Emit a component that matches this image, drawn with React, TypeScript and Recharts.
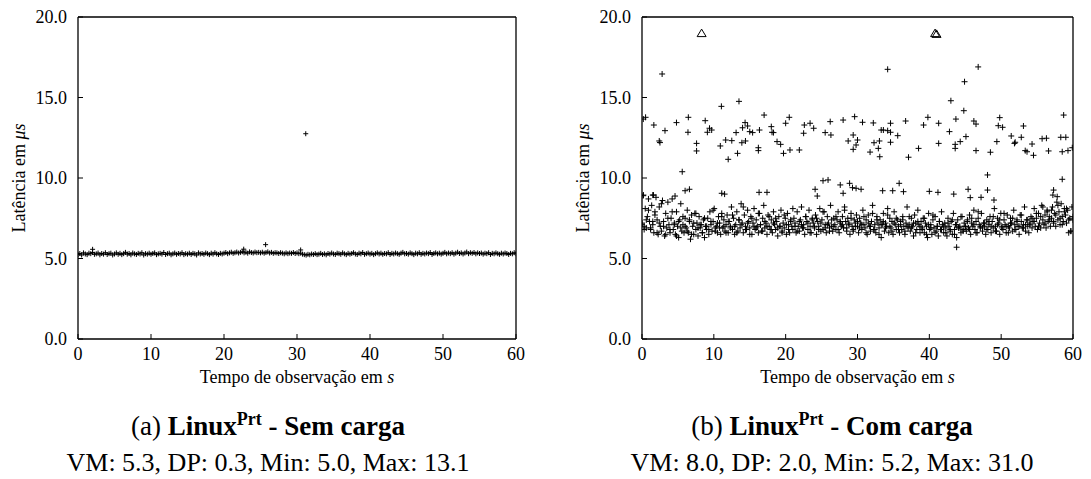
import React from 'react';
import { ScatterChart, Scatter, XAxis, YAxis, Label } from 'recharts';

// axis ticks shared by both panels
const X_TICKS = [0, 10, 20, 30, 40, 50, 60];
const Y_TICKS = [0, 5, 10, 15, 20];

// (a) sem carga: latency sampled every 0.25 s
const LEFT_STEP = 0.25;
const LEFT_BASE = [
  5.25, 5.31, 5.22, 5.35, 5.28, 5.24, 5.33, 5.3, 5.37, 5.26,
  5.29, 5.34, 5.23, 5.31, 5.27, 5.36, 5.25, 5.3, 5.33, 5.22,
  5.28, 5.35, 5.26, 5.32, 5.24, 5.3, 5.38, 5.27, 5.31, 5.23,
  5.34, 5.29, 5.25, 5.32, 5.28, 5.36, 5.22, 5.3, 5.27, 5.33,
  5.26, 5.31, 5.35, 5.24, 5.29, 5.32, 5.27, 5.37, 5.25, 5.3,
  5.33, 5.23, 5.29, 5.34, 5.26, 5.31, 5.28, 5.36, 5.24, 5.3,
  5.27, 5.33, 5.25, 5.32, 5.29, 5.22, 5.35, 5.28, 5.31, 5.26,
  5.34, 5.3, 5.24, 5.33, 5.27, 5.36, 5.29, 5.25, 5.32, 5.28,
  5.33, 5.37, 5.3, 5.35, 5.39, 5.32, 5.36, 5.4, 5.34, 5.38,
  5.42, 5.35, 5.39, 5.33, 5.41, 5.37, 5.34, 5.4, 5.36, 5.38,
  5.35, 5.39, 5.33, 5.37, 5.41, 5.34, 5.38, 5.32, 5.36, 5.35,
  5.31, 5.36, 5.33, 5.29, 5.35, 5.3, 5.34, 5.32, 5.37, 5.31,
  5.35, 5.3, 5.33, 5.27, 5.24, 5.21, 5.26, 5.23, 5.28, 5.25,
  5.3, 5.24, 5.27, 5.32, 5.25, 5.29, 5.23, 5.31, 5.27, 5.34,
  5.28, 5.25, 5.33, 5.3, 5.26, 5.35, 5.29, 5.24, 5.32, 5.27,
  5.31, 5.36, 5.28, 5.25, 5.33, 5.29, 5.37, 5.26, 5.3, 5.34,
  5.27, 5.32, 5.24, 5.3, 5.35, 5.28, 5.33, 5.26, 5.31, 5.29,
  5.36, 5.25, 5.32, 5.28, 5.34, 5.3, 5.26, 5.33, 5.38, 5.29,
  5.31, 5.27, 5.35, 5.3, 5.24, 5.33, 5.29, 5.36, 5.26, 5.32,
  5.28, 5.34, 5.3, 5.37, 5.25, 5.31, 5.35, 5.29, 5.33, 5.27,
  5.32, 5.38, 5.29, 5.34, 5.3, 5.36, 5.27, 5.33, 5.39, 5.31,
  5.35, 5.28, 5.34, 5.4, 5.3, 5.36, 5.32, 5.37, 5.29, 5.35,
  5.31, 5.34, 5.27, 5.33, 5.3, 5.36, 5.25, 5.32, 5.29, 5.35,
  5.3, 5.26, 5.33, 5.28, 5.34, 5.31, 5.25, 5.32, 5.29, 5.36, 5.3,
];
// isolated samples [time s, latency us]
const LEFT_EXTRA = [
  [2.0, 5.57], [22.7, 5.58], [25.7, 5.86], [30.5, 5.53], [31.2, 12.75],
];

// (b) com carga: latency sampled every 0.15 s
const RIGHT_STEP = 0.15;
const RIGHT_BASE = [
  7.2, 8.9, 7.0, 8.1, 6.9, 7.6, 8.7, 7.3, 6.8, 8.3, 7.1, 6.6, 7.9, 8.8, 7.4, 6.5, 8.2, 7.0, 6.7, 8.6,
  7.3, 6.4, 7.8, 6.9, 8.5, 7.1, 6.6, 7.5, 8.7, 6.8, 7.2, 6.5, 7.9, 7.0, 6.3, 7.4, 8.4, 6.7, 7.1, 6.6,
  7.5, 6.9, 8.0, 6.6, 7.3, 6.2, 7.7, 7.0, 6.5, 7.8, 6.8, 7.2, 6.4, 7.6, 6.9, 7.1, 6.6, 7.4, 6.3, 7.0,
  6.8, 7.5, 6.5, 7.9, 7.1, 6.7, 7.3, 8.1, 6.9, 7.0, 6.6, 7.6, 7.2, 6.5, 7.8, 6.9, 7.4, 6.7, 7.1, 7.7,
  6.6, 7.3, 7.0, 8.2, 6.8, 7.5, 6.5, 7.1, 7.9, 6.7, 7.4, 6.9, 8.4, 7.2, 6.6, 7.7, 7.0, 6.8, 8.0, 7.3,
  6.9, 7.6, 6.5, 7.2, 8.1, 6.8, 7.4, 7.0, 6.6, 7.8, 7.1, 6.7, 7.5, 8.3, 6.9, 7.2, 6.5, 7.7, 7.0, 6.8,
  7.4, 6.6, 7.9, 7.1, 6.8, 7.3, 6.4, 7.6, 7.0, 8.0, 6.7, 7.2, 6.9, 7.5, 6.5, 7.8, 7.1, 6.6, 7.3, 7.0,
  6.8, 7.5, 7.2, 6.6, 7.9, 7.0, 6.7, 7.4, 8.2, 6.9, 7.1, 6.5, 7.6, 7.3, 6.8, 8.0, 7.0, 6.6, 7.5, 7.2,
  6.9, 7.7, 6.5, 7.3, 7.0, 8.1, 6.7, 7.4, 6.8, 7.9, 7.1, 6.6, 7.6, 7.2, 6.9, 8.3, 7.0, 6.7, 7.5, 7.1,
  6.8, 7.4, 7.9, 6.6, 7.2, 7.0, 7.6, 6.9, 8.2, 7.3, 6.7, 7.5, 7.1, 6.5, 7.8, 7.0, 6.8, 7.4, 7.2, 7.7,
  7.0, 6.6, 7.5, 7.2, 6.8, 8.0, 7.1, 6.9, 7.4, 6.5, 7.7, 7.0, 6.7, 7.3, 8.3, 6.8, 7.1, 6.6, 7.6, 7.2,
  6.9, 7.4, 6.3, 7.1, 7.8, 6.7, 7.2, 7.0, 8.1, 6.6, 7.5, 6.9, 7.3, 6.5, 7.9, 7.1, 6.8, 7.4, 7.0, 6.6,
  7.3, 6.8, 7.6, 7.0, 6.5, 7.2, 8.2, 6.9, 7.1, 6.7, 7.5, 7.0, 6.4, 7.7, 7.2, 6.8, 8.0, 7.1, 6.6, 7.3,
  6.9, 7.5, 6.6, 7.2, 7.0, 6.3, 7.8, 6.8, 7.1, 6.5, 7.4, 6.9, 7.6, 6.7, 7.0, 6.4, 7.3, 6.8, 7.9, 7.1,
  6.6, 7.2, 6.9, 6.4, 7.5, 7.0, 6.7, 7.3, 6.5, 7.8, 6.8, 7.1, 6.3, 7.4, 6.9, 7.0, 6.6, 7.6, 6.8, 7.2,
  7.0, 6.7, 7.4, 6.9, 7.7, 6.5, 7.2, 7.0, 8.0, 6.8, 7.3, 6.6, 7.5, 7.1, 6.9, 7.8, 6.7, 7.2, 7.0, 6.5,
  7.4, 6.8, 7.1, 7.6, 6.6, 7.3, 6.9, 8.1, 7.0, 6.7, 7.5, 7.2, 6.5, 7.8, 7.0, 6.8, 7.4, 7.1, 6.6, 7.7,
  7.0, 6.9, 7.5, 7.2, 6.7, 8.0, 7.1, 6.8, 7.4, 7.0, 6.5, 7.7, 7.3, 6.9, 7.1, 8.2, 6.7, 7.4, 7.0, 6.6,
  7.2, 7.6, 6.9, 7.3, 8.1, 7.0, 7.5, 6.8, 7.8, 7.2, 6.9, 8.3, 7.4, 7.1, 7.7, 6.9, 8.0, 7.3, 7.6, 7.0,
  7.5, 8.2, 7.2, 7.8, 7.0, 8.5, 7.4, 7.9, 7.1, 8.4, 7.6, 7.3, 8.1, 7.7, 7.2, 8.0, 6.6, 7.5, 6.7, 8.2,
  7.4,
];
// second pass over the dense band, every 0.3 s
const RIGHT_STEP2 = 0.3;
const RIGHT_BASE2 = [
  7.1, 6.8, 7.4, 8.0, 6.9, 7.3, 7.7, 6.6, 7.2, 8.4, 7.0, 6.5, 7.5, 6.8, 7.9, 7.1, 6.4, 7.3, 6.9, 7.6,
  7.0, 6.7, 7.4, 6.5, 7.2, 7.8, 6.9, 7.1, 6.6, 7.5, 7.0, 6.8, 7.3, 8.0, 6.7, 7.2, 6.9, 7.6, 7.0, 6.6,
  7.3, 6.9, 7.7, 7.0, 6.6, 7.4, 7.1, 8.2, 6.8, 7.2, 6.5, 7.5, 7.0, 6.9, 7.8, 7.1, 6.7, 7.3, 7.0, 7.6,
  6.8, 7.2, 7.5, 6.9, 7.0, 6.6, 7.7, 7.1, 6.8, 7.4, 8.1, 7.0, 6.7, 7.3, 7.1, 6.9, 7.6, 7.2, 6.6, 7.4,
  7.0, 7.5, 6.8, 7.2, 7.9, 6.9, 7.1, 6.7, 7.4, 7.0, 7.6, 6.8, 7.3, 7.1, 8.0, 6.9, 7.2, 7.5, 6.7, 7.0,
  7.3, 6.9, 7.1, 7.6, 6.6, 7.2, 7.0, 7.8, 6.8, 7.4, 6.5, 7.1, 7.3, 6.9, 7.7, 7.0, 6.7, 7.2, 7.5, 6.8,
  7.1, 7.4, 6.7, 7.0, 7.6, 6.9, 7.2, 6.6, 7.3, 7.0, 6.8, 7.5, 6.5, 7.1, 6.9, 7.7, 6.6, 7.0, 7.3, 6.8,
  7.0, 6.6, 7.2, 6.8, 7.4, 6.5, 7.1, 6.9, 7.6, 6.7, 7.0, 7.3, 6.8, 7.5, 7.1, 6.6, 7.9, 7.0, 6.9, 7.2,
  6.8, 7.3, 7.0, 7.6, 6.7, 7.1, 7.4, 6.9, 7.8, 7.0, 6.6, 7.2, 7.5, 6.8, 7.3, 7.0, 7.7, 6.9, 7.1, 7.4,
  7.1, 7.5, 7.3, 7.8, 7.0, 7.6, 8.2, 7.2, 7.9, 7.4, 8.0, 7.3, 7.7, 8.3, 7.5, 7.1, 7.9, 8.1, 7.4, 6.7,
  7.6,
];
// samples between the dense band and the upper group
const RIGHT_MID = [
  [0.2, 8.94], [1.5, 8.94], [1.6, 8.94], [4.6, 8.88], [5.6, 10.39], [6.0, 9.21], [6.6, 9.3],
  [11.1, 9.05], [11.5, 9.0], [16.3, 9.11], [17.4, 9.11], [24.1, 9.3], [24.4, 8.88], [25.2, 9.83],
  [25.9, 9.88], [27.6, 9.57], [28.0, 9.05], [28.9, 9.67], [29.3, 9.4], [29.8, 9.36], [30.5, 9.3],
  [33.5, 9.21], [34.9, 9.21], [35.8, 9.67], [36.4, 9.15], [40.0, 9.17], [41.2, 9.11], [43.4, 9.0],
  [43.8, 5.7], [45.4, 9.3], [45.7, 8.78], [47.2, 8.8], [48.1, 10.19], [48.1, 9.25], [49.0, 8.63],
  [57.2, 8.94], [57.3, 9.25], [57.8, 8.84], [58.5, 9.92],
];
// upper group of samples, 11-17 us
const RIGHT_UPPER = [
  [0.18, 13.66], [0.5, 13.77], [1.65, 13.29], [2.4, 12.3], [2.5, 12.2], [2.8, 16.46], [3.2, 12.94],
  [4.8, 13.44], [6.4, 12.84], [6.45, 13.77], [7.6, 12.15], [7.6, 11.68], [8.8, 13.56], [9.1, 12.84],
  [9.4, 13.09], [9.7, 12.98], [10.9, 11.99], [11.05, 14.45], [11.65, 12.36], [12.0, 11.16],
  [12.5, 12.32], [13.1, 12.82], [13.3, 11.53], [13.5, 14.76], [13.9, 12.19], [14.0, 13.12],
  [14.35, 13.44], [14.4, 12.3], [14.7, 13.23], [15.0, 12.88], [15.4, 12.82], [16.2, 11.88],
  [16.2, 11.7], [16.35, 12.98], [17.0, 13.91], [18.0, 13.19], [18.1, 12.84], [18.3, 12.82],
  [18.8, 12.26], [19.3, 12.09], [19.7, 11.53], [20.0, 13.4], [20.5, 13.77], [20.6, 11.74],
  [21.9, 11.74], [22.5, 12.78], [22.6, 13.29], [23.4, 13.4], [23.9, 13.09], [25.5, 12.82],
  [26.2, 13.5], [26.3, 12.67], [28.0, 13.6], [28.7, 12.3], [29.4, 11.78], [29.4, 12.67],
  [29.6, 13.81], [29.8, 12.05], [30.0, 12.36], [30.7, 13.46], [31.75, 11.61], [32.2, 13.42],
  [32.3, 12.19], [32.9, 11.84], [33.05, 12.3], [33.1, 11.32], [33.3, 12.98], [33.6, 12.98],
  [34.2, 12.94], [34.2, 16.75], [34.6, 13.4], [34.6, 12.84], [34.6, 12.22], [35.6, 12.63],
  [36.7, 13.54], [37.1, 11.29], [38.5, 11.84], [39.2, 13.29], [39.8, 13.77], [41.3, 13.4],
  [41.3, 12.15], [42.8, 12.88], [43.0, 14.8], [43.6, 12.09], [43.6, 11.84], [43.7, 13.66],
  [44.3, 12.26], [44.8, 14.18], [44.9, 15.98], [45.1, 12.57], [46.2, 13.54], [46.5, 13.35],
  [46.5, 11.7], [46.8, 16.9], [48.5, 11.6], [49.4, 12.26], [49.6, 13.25], [49.8, 13.75],
  [50.2, 13.15], [51.4, 12.61], [51.85, 12.15], [51.95, 12.22], [52.8, 12.53], [53.1, 13.23],
  [53.35, 11.7], [53.6, 11.63], [54.3, 12.11], [54.5, 11.41], [55.7, 12.44], [56.3, 12.47],
  [56.6, 11.68], [58.3, 12.53], [58.5, 11.63], [58.7, 13.91], [59.0, 12.53], [59.3, 11.7],
  [59.9, 11.88],
];
// samples beyond the top of the axis, drawn as triangles
const RIGHT_CLIPPED = [[8.3, 19.0], [40.8, 19.0], [41.0, 18.95]];

const FONT = "'Liberation Serif', 'DejaVu Serif', serif";

const sampled = (vals: number[], step: number) => vals.map((v, i) => ({ t: i * step, v }));
const pairs = (list: number[][]) => list.map(([t, v]) => ({ t, v }));

const plusShape = (size: number) => (p: any) => (
  <path
    d={`M${p.cx - size},${p.cy}H${p.cx + size}M${p.cx},${p.cy - size}V${p.cy + size}`}
    stroke="#000"
    strokeWidth={1}
    fill="none"
  />
);

const triangleShape = (p: any) => (
  <path
    d={`M${p.cx},${p.cy - 4}L${p.cx + 4.5},${p.cy + 3.5}L${p.cx - 4.5},${p.cy + 3.5}Z`}
    stroke="#000"
    strokeWidth={1}
    fill="none"
  />
);

const XTitle = (props: any) => {
  const vb = props.viewBox;
  return (
    <text x={vb.x + vb.width / 2} y={vb.y + 44} textAnchor="middle" style={{ fontFamily: FONT }} fontSize={18} fill="#000">
      Tempo de observação em <tspan fontStyle="italic">s</tspan>
    </text>
  );
};

const YTitle = (props: any) => {
  const vb = props.viewBox;
  const x = vb.x - 9;
  const y = vb.y + vb.height / 2;
  return (
    <text
      x={x}
      y={y}
      transform={`rotate(-90, ${x}, ${y})`}
      textAnchor="middle"
      dominantBaseline="central"
      style={{ fontFamily: FONT }}
      fontSize={18}
      fill="#000"
    >
      Latência em <tspan fontStyle="italic">μs</tspan>
    </text>
  );
};

type Series = { data: { t: number; v: number }[]; shape: any };

type PanelProps = {
  left: number;
  width: number;
  marginRight: number;
  series: Series[];
  tag: string;
  title: string;
  stats: string;
  captionCenter: number;
};

const tickStyle = { fontFamily: FONT, fontSize: 18, fill: '#000', style: { fontFamily: FONT } };
const frame = { stroke: '#000', strokeWidth: 1.3 };

function Panel({ left, width, marginRight, series, tag, title, stats, captionCenter }: PanelProps) {
  const captionBox = {
    position: 'absolute' as const,
    left: captionCenter - 270,
    width: 540,
    textAlign: 'center' as const,
    fontFamily: FONT,
    lineHeight: '30px',
    color: '#000',
    whiteSpace: 'nowrap' as const,
  };
  return (
    <div style={{ position: 'absolute', left, top: 0, width, height: 479, fontFamily: FONT }}>
      <ScatterChart width={width} height={390} margin={{ top: 16, right: marginRight, bottom: 6, left: 28 }}>
        <XAxis
          type="number"
          dataKey="t"
          domain={[0, 60]}
          ticks={X_TICKS}
          interval={0}
          allowDataOverflow
          height={45}
          tickSize={-5}
          tickMargin={13}
          tick={tickStyle}
          axisLine={frame}
          tickLine={{ stroke: '#000' }}
        >
          <Label content={XTitle} />
        </XAxis>
        <XAxis
          xAxisId="top"
          orientation="top"
          type="number"
          domain={[0, 60]}
          ticks={X_TICKS}
          interval={0}
          allowDataOverflow
          height={1}
          tickSize={-5}
          tick={false}
          axisLine={frame}
          tickLine={{ stroke: '#000' }}
        />
        <YAxis
          type="number"
          dataKey="v"
          domain={[0, 20]}
          ticks={Y_TICKS}
          interval={0}
          allowDataOverflow
          width={50}
          tickSize={-5}
          tickMargin={16}
          tick={tickStyle}
          tickFormatter={(v: number) => v.toFixed(1)}
          axisLine={frame}
          tickLine={{ stroke: '#000' }}
        >
          <Label content={YTitle} />
        </YAxis>
        <YAxis
          yAxisId="right"
          orientation="right"
          type="number"
          domain={[0, 20]}
          ticks={Y_TICKS}
          interval={0}
          allowDataOverflow
          width={1}
          tickSize={-5}
          tick={false}
          axisLine={frame}
          tickLine={{ stroke: '#000' }}
        />
        {series.map((s, i) => (
          <Scatter key={i} data={s.data} shape={s.shape} isAnimationActive={false} />
        ))}
      </ScatterChart>
      <div style={{ ...captionBox, top: 411, fontSize: 27 }}>
        {tag} <b>Linux<sup style={{ fontSize: 18, verticalAlign: 'super', lineHeight: 0 }}>Prt</sup> - {title}</b>
      </div>
      <div style={{ ...captionBox, top: 448, fontSize: 26 }}>{stats}</div>
    </div>
  );
}

export default function App() {
  const leftSeries: Series[] = [
    { data: sampled(LEFT_BASE, LEFT_STEP), shape: plusShape(2.5) },
    { data: pairs(LEFT_EXTRA), shape: plusShape(2.5) },
  ];
  const rightSeries: Series[] = [
    { data: sampled(RIGHT_BASE, RIGHT_STEP), shape: plusShape(3) },
    { data: sampled(RIGHT_BASE2, RIGHT_STEP2), shape: plusShape(3) },
    { data: pairs(RIGHT_MID), shape: plusShape(3) },
    { data: pairs(RIGHT_UPPER), shape: plusShape(3) },
    { data: pairs(RIGHT_CLIPPED), shape: triangleShape },
  ];
  return (
    <div style={{ position: 'absolute', left: 0, top: 0, width: 1091, height: 479, background: '#fff' }}>
      <Panel
        left={0}
        width={540}
        marginRight={23}
        series={leftSeries}
        tag="(a)"
        title="Sem carga"
        stats="VM: 5.3, DP: 0.3, Min: 5.0, Max: 13.1"
        captionCenter={268}
      />
      <Panel
        left={564}
        width={527}
        marginRight={17}
        series={rightSeries}
        tag="(b)"
        title="Com carga"
        stats="VM: 8.0, DP: 2.0, Min: 5.2, Max: 31.0"
        captionCenter={268}
      />
    </div>
  );
}
